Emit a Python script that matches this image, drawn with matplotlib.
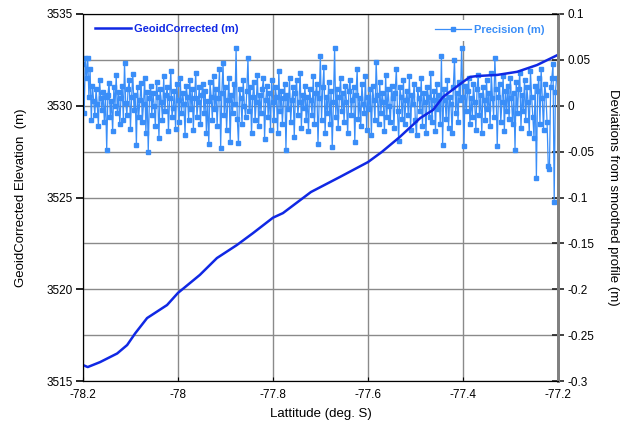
import numpy as np
import matplotlib
matplotlib.use('Agg')
import matplotlib.pyplot as plt

plt.rcParams['font.family'] = ['Liberation Sans', 'DejaVu Sans']

# GeoidCorrected elevation profile
elev_lat = [-78.2, -78.19, -78.164, -78.128, -78.107, -78.09, -78.065, -78.023, -78.0,
            -77.954, -77.918, -77.876, -77.842, -77.8, -77.779, -77.72, -77.659, -77.6,
            -77.571, -77.533, -77.49, -77.463, -77.442, -77.4, -77.385, -77.37, -77.328,
            -77.286, -77.244, -77.202]
elev_m = [3515.87, 3515.76, 3516.03, 3516.5, 3516.96, 3517.6, 3518.43, 3519.14, 3519.8,
          3520.78, 3521.7, 3522.41, 3523.06, 3523.9, 3524.15, 3525.3, 3526.12, 3526.93,
          3527.48, 3528.3, 3529.33, 3529.77, 3530.48, 3531.3, 3531.57, 3531.62, 3531.68,
          3531.85, 3532.22, 3532.75]

# Precision: deviations from smoothed profile (m), evenly spaced along latitude
precision_m = [
    0.045, -0.008, 0.052, 0.030, 0.052, 0.010, 0.040, -0.015, 0.022, 0.005,
    -0.010, 0.018, 0.002, -0.022, 0.028, 0.008, -0.005, 0.015, -0.018, 0.010,
    -0.048, 0.012, 0.025, -0.012, 0.005, -0.028, 0.020, 0.000, 0.033, -0.008,
    0.015, -0.020, 0.008, 0.022, -0.015, 0.047, 0.003, -0.010, 0.018, 0.028,
    -0.025, 0.010, 0.035, -0.005, 0.012, -0.043, 0.020, -0.012, 0.006, 0.025,
    -0.018, 0.002, 0.030, -0.030, 0.015, -0.050, 0.008, 0.022, -0.010, 0.014,
    0.000, -0.022, 0.026, 0.010, -0.035, 0.018, 0.004, -0.015, 0.032, -0.006,
    0.012, 0.020, -0.028, 0.008, 0.038, -0.012, -0.002, 0.016, -0.025, 0.024,
    0.006, -0.018, 0.030, -0.008, 0.014, 0.002, -0.032, 0.022, 0.010, -0.015,
    0.028, -0.004, 0.018, -0.026, 0.008, 0.036, -0.012, 0.004, 0.020, -0.020,
    0.012, 0.024, -0.008, 0.016, -0.030, 0.005, -0.042, 0.026, 0.010, -0.015,
    0.032, -0.004, 0.018, -0.022, 0.008, 0.040, -0.046, 0.014, 0.047, -0.010,
    0.020, -0.026, 0.006, 0.030, -0.040, 0.012, -0.008, 0.024, 0.002, 0.063,
    -0.014, -0.041, 0.018, 0.008, -0.020, 0.028, 0.000, -0.012, 0.016, 0.052,
    -0.006, 0.020, -0.030, 0.010, 0.026, -0.016, 0.004, 0.034, -0.022, 0.012,
    -0.008, 0.018, 0.030, -0.036, 0.006, 0.022, -0.012, 0.014, -0.026, 0.028,
    0.004, -0.016, 0.020, 0.010, -0.030, 0.038, -0.006, 0.016, -0.020, 0.008,
    0.024, -0.048, 0.012, -0.004, 0.030, -0.018, 0.006, 0.020, -0.034, 0.014,
    0.028, -0.010, 0.004, 0.036, -0.024, 0.012, -0.002, 0.022, -0.016, 0.010,
    -0.028, 0.018, 0.006, -0.010, 0.032, -0.020, 0.014, 0.024, -0.042, 0.008,
    0.054, -0.016, 0.020, 0.042, -0.030, 0.010, -0.008, 0.026, -0.020, 0.016,
    -0.045, 0.004, 0.063, -0.012, 0.018, -0.024, 0.010, 0.030, -0.006, 0.014,
    -0.018, 0.022, 0.004, -0.030, 0.016, 0.028, -0.010, 0.006, 0.020, -0.039,
    0.012, 0.040, -0.014, 0.008, -0.022, 0.024, 0.002, -0.008, 0.032, -0.026,
    0.010, -0.004, 0.018, -0.032, 0.022, 0.006, -0.016, 0.048, 0.012, -0.020,
    0.026, -0.008, 0.014, 0.004, -0.028, 0.034, -0.012, 0.018, 0.000, -0.018,
    0.022, 0.008, -0.024, 0.014, 0.040, -0.006, -0.038, 0.020, 0.010, -0.014,
    0.028, -0.020, 0.006, 0.016, -0.010, 0.032, -0.026, 0.012, 0.002, 0.024,
    -0.016, -0.032, 0.018, 0.008, -0.006, 0.030, -0.022, 0.014, 0.004, -0.030,
    0.020, 0.010, -0.012, 0.036, -0.018, 0.006, 0.016, -0.028, 0.024, -0.004,
    0.012, -0.020, 0.054, -0.043, 0.018, 0.006, -0.014, 0.028, -0.024, 0.010,
    0.002, -0.030, 0.020, 0.050, -0.008, 0.014, -0.018, 0.026, 0.006, 0.063,
    0.010, -0.044, 0.022, -0.006, 0.016, 0.030, -0.020, 0.008, -0.012, 0.024,
    0.004, -0.026, 0.018, 0.034, -0.010, 0.012, -0.030, 0.020, 0.006, -0.016,
    0.028, -0.004, 0.014, -0.022, 0.036, 0.008, -0.012, 0.052, 0.018, -0.044,
    0.010, 0.024, -0.018, 0.004, 0.032, -0.028, 0.016, -0.006, 0.022, -0.014,
    0.030, 0.008, -0.020, 0.014, -0.048, 0.026, -0.008, 0.018, 0.036, -0.024,
    0.012, -0.006, 0.028, -0.016, 0.020, 0.004, -0.030, 0.038, 0.010, -0.012,
    -0.035, 0.022, -0.079, 0.016, 0.030, -0.020, 0.040, 0.008, -0.026, 0.024,
    0.012, -0.018, -0.066, -0.069, 0.020, 0.030, 0.045, -0.105, 0.015, 0.030,
]
precision_lat = np.linspace(-78.2, -77.203, len(precision_m))

lat_ticks = [-78.2, -78.0, -77.8, -77.6, -77.4, -77.2]
lat_labels = ['-78.2', '-78', '-77.8', '-77.6', '-77.4', '-77.2']
elev_ticks = [3515, 3520, 3525, 3530, 3535]
dev_ticks = [-0.3, -0.25, -0.2, -0.15, -0.1, -0.05, 0, 0.05, 0.1]
dev_labels = ['-0.3', '-0.25', '-0.2', '-0.15', '-0.1', '-0.05', '0', '0.05', '0.1']

dark_blue = '#1028e4'
light_blue = '#3a8ef8'
grid_gray = '#8a8a8a'

fig = plt.figure(figsize=(6.3, 4.28), dpi=100)
ax2 = fig.add_axes([0.1317, 0.1098, 0.7540, 0.8575])
ax = ax2.twinx()
ax.yaxis.tick_left()
ax.yaxis.set_label_position('left')
ax2.yaxis.tick_right()
ax2.yaxis.set_label_position('right')

# precision series (behind)
ax2.plot(precision_lat, precision_m, color=light_blue, lw=0.9, marker='s', ms=2.2,
         label='Precision (m)')
ax2.set_ylim(-0.3, 0.1)
ax2.set_yticks(dev_ticks)
ax2.set_yticklabels(dev_labels)
ax2.set_xlim(-78.2, -77.2)
ax2.set_xticks(lat_ticks)
ax2.set_xticklabels(lat_labels)
ax2.grid(True, color=grid_gray, lw=1.0)
ax2.set_axisbelow(True)
ax2.tick_params(axis='y', direction='inout', length=9, width=1.2, color='#222222',
                labelsize=8.5, pad=2)
ax2.tick_params(axis='x', direction='in', length=3, labelsize=8.5, pad=6)
ax2.set_ylabel('Deviations from smoothed profile (m)', rotation=270, labelpad=18,
               fontsize=9.5)
ax2.set_xlabel('Lattitude (deg. S)', fontsize=9.5, labelpad=5)
ax2.legend(loc='upper right', bbox_to_anchor=(0.995, 1.0), frameon=True,
           facecolor='white', edgecolor='none', framealpha=1, fancybox=False,
           numpoints=1, handlelength=3.2, handletextpad=0.3, borderpad=0.5,
           prop={'weight': 'bold', 'size': 8}, labelcolor='linecolor')

# elevation line (in front)
ax.plot(elev_lat, elev_m, color=dark_blue, lw=1.8, label='GeoidCorrected (m)')
ax.set_ylim(3515, 3535)
ax.set_yticks(elev_ticks)
ax.tick_params(axis='y', direction='out', length=5, width=1.2, labelsize=8.5, pad=2)
ax.set_ylabel('GeoidCorrected Elevation  (m)', fontsize=9.5, labelpad=14)
ax.legend(loc='upper left', bbox_to_anchor=(0.005, 1.0), frameon=False,
          handlelength=3.2, handletextpad=0.3, prop={'weight': 'bold', 'size': 8},
          labelcolor='linecolor')

ax.set_zorder(ax2.get_zorder() + 1)
ax.patch.set_visible(False)

for a in (ax, ax2):
    a.spines['right'].set_color('#808080')
    a.spines['right'].set_linewidth(2)
    a.spines['top'].set_color('black')
    a.spines['bottom'].set_color('black')
    a.spines['left'].set_color('black')

fig.savefig('out.png', dpi=100)
